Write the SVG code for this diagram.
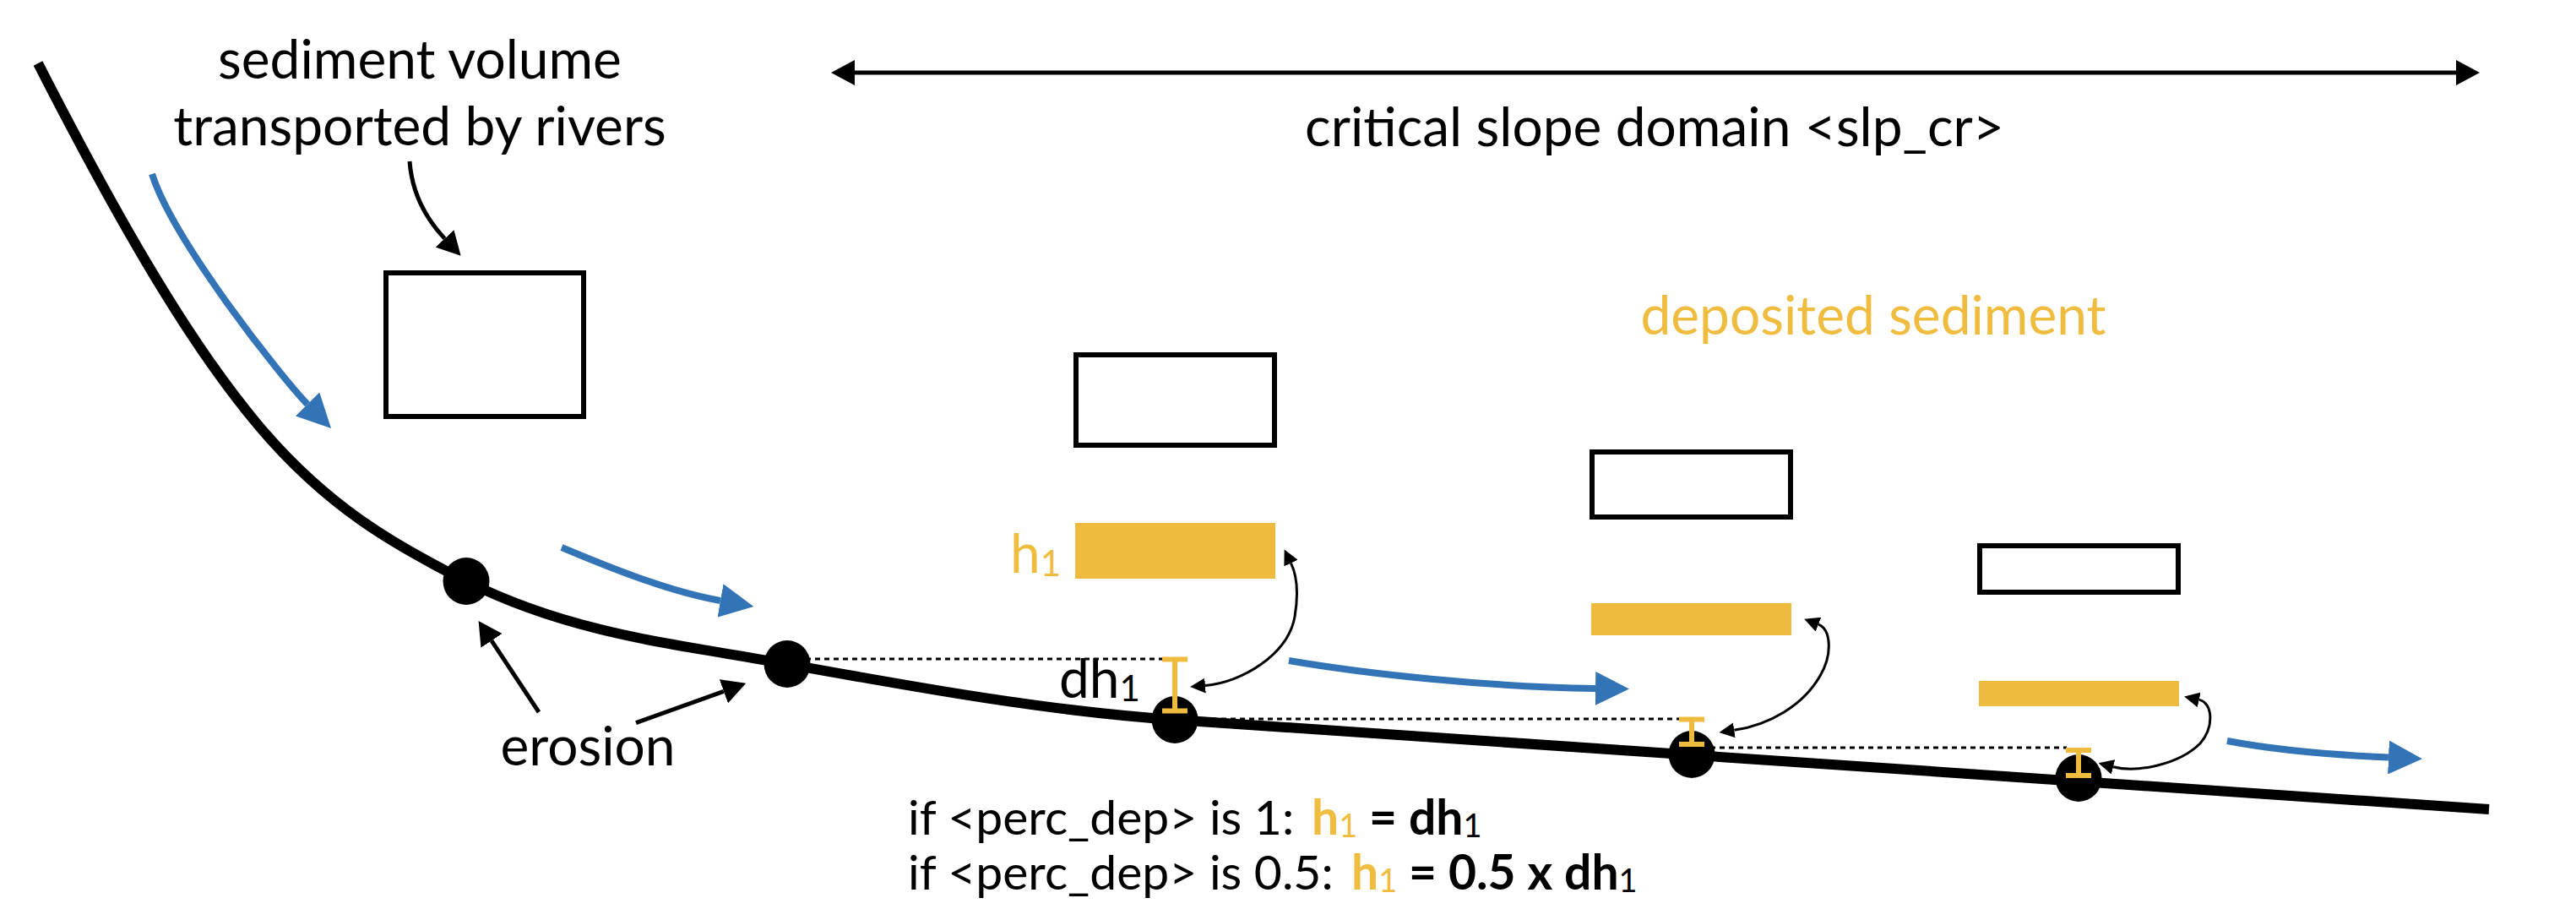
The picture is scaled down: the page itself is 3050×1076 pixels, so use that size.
<svg xmlns="http://www.w3.org/2000/svg" width="3050" height="1076" viewBox="0 0 3050 1076">
<style>
.t{font-family:Lato,"Open Sans","Liberation Sans",sans-serif;fill:#000}
.m{font-size:64px}
.s{font-size:57px}
.y{fill:#F0BC40}
.b{font-weight:bold}
.box{fill:#fff;stroke:#000;stroke-width:6}
.bar{fill:#EFBB3F}
.ground{fill:none;stroke:#000;stroke-width:12}
.dot{fill:#000}
.dash{fill:none;stroke:#000;stroke-width:3;stroke-dasharray:6 5}
.ibeam{fill:none;stroke:#EFBB3F;stroke-width:6}
.flow{fill:none;stroke:#3274B6;stroke-width:8;marker-end:url(#blueHead)}
.ptr{fill:none;stroke:#000;stroke-width:5;marker-end:url(#blackHead)}
.link{fill:none;stroke:#000;stroke-width:3;marker-start:url(#smallHead);marker-end:url(#smallHead)}
</style>
<defs>
<marker id="blueHead" markerUnits="userSpaceOnUse" viewBox="0 0 40 40" markerWidth="40" markerHeight="40" refX="0" refY="20" orient="auto"><path d="M0,0 L40,20 L0,40 z" fill="#3274B6"/></marker>
<marker id="blackHead" markerUnits="userSpaceOnUse" viewBox="0 0 28 30" markerWidth="28" markerHeight="30" refX="0" refY="15" orient="auto-start-reverse"><path d="M0,0 L28,15 L0,30 z" fill="#000"/></marker>
<marker id="smallHead" markerUnits="userSpaceOnUse" viewBox="0 0 18 18" markerWidth="18" markerHeight="18" refX="0" refY="9" orient="auto-start-reverse"><path d="M0,0 L18,9 L0,18 z" fill="#000"/></marker>
</defs>
<rect x="0" y="0" width="3050" height="1076" fill="#fff"/>

<g id="domain">
<path d="M1012,86 L2908,86" fill="none" stroke="#000" stroke-width="5" marker-start="url(#blackHead)" marker-end="url(#blackHead)"/>
<text class="t m" x="1959" y="173" text-anchor="middle">critical slope domain &lt;slp_cr&gt;</text>
</g>

<g id="label-volume">
<text class="t m" x="497" y="93" text-anchor="middle">sediment volume</text>
<text class="t m" x="497" y="172" text-anchor="middle">transported by rivers</text>
</g>

<g id="label-deposited">
<text class="t m y" x="2218" y="396" text-anchor="middle">deposited sediment</text>
</g>

<g id="label-erosion">
<text class="t m" x="696" y="906" text-anchor="middle">erosion</text>
</g>

<g id="guides">
<path class="dash" d="M932,780 H1378"/>
<path class="dash" d="M1391,851 H1988"/>
<path class="dash" d="M2003,885 H2447"/>
</g>

<g id="ground">
<path class="ground" d="M45,75 C131,243 217,397 303,500 C386,600 469,646.5 552,688 C679,751.5 805,763 932,786 C1085,813.5 1238,841.5 1391,852 L2947,958"/>
</g>

<g id="node1"><ellipse class="dot" cx="552" cy="688" rx="27.5" ry="28"/></g>
<g id="node2"><ellipse class="dot" cx="932" cy="786" rx="27.5" ry="28"/></g>
<g id="node3"><ellipse class="dot" cx="1391" cy="852" rx="27.5" ry="28"/>
<path class="ibeam" d="M1376,780.5 H1406 M1376,841.5 H1406 M1391,780.5 V841.5"/></g>
<g id="node4"><ellipse class="dot" cx="2003" cy="893" rx="27.5" ry="28"/>
<path class="ibeam" d="M1988,851.5 H2018 M1988,881 H2018 M2003,851.5 V881"/></g>
<g id="node5"><ellipse class="dot" cx="2461" cy="921" rx="27.5" ry="28"/>
<path class="ibeam" d="M2446,888 H2476 M2446,918 H2476 M2461,888 V918"/></g>

<g id="volume1"><rect class="box" x="457" y="323" width="234" height="170"/></g>
<g id="volume2"><rect class="box" x="1274" y="420" width="235" height="107"/></g>
<g id="volume3"><rect class="box" x="1885" y="535" width="235" height="77"/></g>
<g id="volume4"><rect class="box" x="2344" y="646" width="235" height="55"/></g>

<g id="deposit1"><rect class="bar" x="1273" y="619" width="237" height="66"/>
<text class="t m y" x="1196" y="678">h<tspan font-size="42" dy="4">1</tspan></text></g>
<g id="deposit2"><rect class="bar" x="1884" y="714" width="237" height="38"/></g>
<g id="deposit3"><rect class="bar" x="2343" y="806" width="237" height="30"/></g>

<g id="label-dh">
<text class="t m" x="1254" y="826">dh<tspan font-size="42" dy="4">1</tspan></text>
</g>

<g id="connectors">
<path class="flow" d="M180,206 C205,285 335,449 364,478.5"/>
<path class="flow" d="M665,648 C715,669 790,700 853,711"/>
<path class="flow" d="M1526,782 C1620,798 1760,813 1889,815"/>
<path class="flow" d="M2637,877 C2700,889 2770,894 2828,896.5"/>
<path class="ptr" d="M485,191 C488,232 506.5,261 526.5,282.4"/>
<path class="ptr" d="M638,843 L582,758.4"/>
<path class="ptr" d="M753,855.6 L856.9,818.3"/>
<path class="link" d="M1427,811.6 C1470,808 1525,775 1533,730 C1538,700 1535,680 1528.5,666.6"/>
<path class="link" d="M2053.3,864.3 C2095,858 2135,835 2155,800 C2170,775 2168,745 2153,739.2"/>
<path class="link" d="M2502,907.8 C2530,915 2580,905 2605,880 C2622,860 2620,832 2603.7,828.4"/>
</g>

<g id="rule">
<text class="t s" x="1075" y="988">if &lt;perc_dep&gt; is 1:</text>
<text class="t s b" x="1553" y="988"><tspan class="y">h</tspan><tspan class="y" font-size="38" font-weight="normal" dy="3">1</tspan><tspan dy="-3"> = dh</tspan><tspan font-size="38" font-weight="normal" dy="3">1</tspan></text>
<text class="t s" x="1075" y="1053">if &lt;perc_dep&gt; is 0.5:</text>
<text class="t s b" x="1600" y="1053"><tspan class="y">h</tspan><tspan class="y" font-size="38" font-weight="normal" dy="3">1</tspan><tspan dy="-3"> = 0.5 x dh</tspan><tspan font-size="38" font-weight="normal" dy="3">1</tspan></text>
</g>
</svg>
